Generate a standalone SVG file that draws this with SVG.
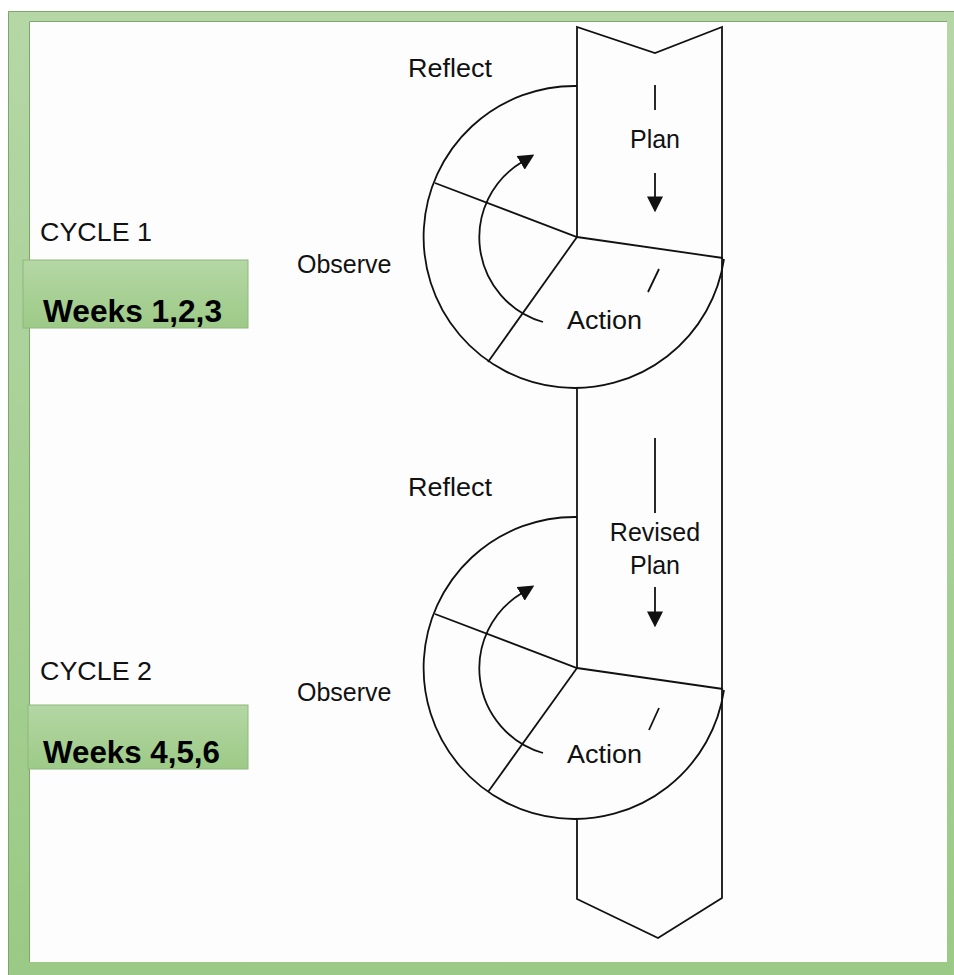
<svg xmlns="http://www.w3.org/2000/svg" width="954" height="975" viewBox="0 0 954 975">
<defs>
<linearGradient id="frameG" x1="0" y1="0" x2="0" y2="1">
<stop offset="0" stop-color="#b5d7a6"/>
<stop offset="1" stop-color="#9aca85"/>
</linearGradient>
<linearGradient id="boxG" x1="0" y1="0" x2="0" y2="1">
<stop offset="0" stop-color="#b4d7a4"/>
<stop offset="1" stop-color="#9dca87"/>
</linearGradient>
<marker id="ah" viewBox="0 0 10 10" refX="1" refY="5" markerWidth="16" markerHeight="16" markerUnits="userSpaceOnUse" orient="auto">
<path d="M0,0 L10,5 L0,10 Z" fill="#111"/>
</marker>
<style>
.ln{fill:none;stroke:#111;stroke-width:1.8;stroke-linejoin:miter}
.t{font-family:"Liberation Sans",Arial,sans-serif;font-size:25px;fill:#111}
.tc{text-anchor:middle}
.wk{font-family:"Liberation Sans",Arial,sans-serif;font-size:31px;font-weight:bold;fill:#000}
.box{fill:url(#boxG);stroke:#8db87c;stroke-width:1}
</style>
</defs>
<g id="frame">
<rect x="8" y="11" width="946" height="964" fill="url(#frameG)"/>
<path d="M8.5,975 L8.5,11.5 L954,11.5" fill="none" stroke="#7fa56f" stroke-width="1"/>
<rect x="29" y="21" width="918" height="941" fill="#fdfdfd"/>
<path d="M29.5,962 L29.5,21.5 L947,21.5" fill="none" stroke="#7fa56f" stroke-width="1"/>
</g>
<g id="connectors">
<path class="ln" d="M577,238 L577,27 L655,53 L722,27 L722,898 L658,938 L577,899 L577,819"/>
<path class="ln" d="M577,387 L577,668"/>
<path class="ln" d="M577,86 A151,151 0 1,0 724,259"/>
<path class="ln" d="M435,183 L577,237 L723,258"/>
<path class="ln" d="M577,237 L488,362"/>
<path class="ln" d="M659,269 L648,292"/>
<path class="ln" d="M543,322 A88,88 0 0,1 522,162" marker-end="url(#ah)"/>
<path class="ln" d="M655,85 L655,110"/>
<path class="ln" d="M655,173 L655,198" marker-end="url(#ah)"/>
<path class="ln" d="M577,517 A151,151 0 1,0 724,690"/>
<path class="ln" d="M435,614 L577,668 L723,689"/>
<path class="ln" d="M577,668 L488,792"/>
<path class="ln" d="M659,708 L649,730"/>
<path class="ln" d="M543,753 A88,88 0 0,1 522,593" marker-end="url(#ah)"/>
<path class="ln" d="M655,438 L655,513"/>
<path class="ln" d="M655,587 L655,613" marker-end="url(#ah)"/>
</g>
<g id="cycle1">
<text class="t" x="408" y="77" textLength="84" lengthAdjust="spacingAndGlyphs">Reflect</text>
<text class="t tc" x="655" y="148">Plan</text>
<text class="t" x="297" y="273">Observe</text>
<text class="t" x="567" y="329" textLength="75" lengthAdjust="spacingAndGlyphs">Action</text>
<text class="t" x="40" y="241" textLength="112" lengthAdjust="spacingAndGlyphs">CYCLE 1</text>
</g>
<g id="weeks1">
<rect class="box" x="23" y="260" width="225" height="68"/>
<text class="wk" x="43" y="322" textLength="179" lengthAdjust="spacingAndGlyphs">Weeks 1,2,3</text>
</g>
<g id="cycle2">
<text class="t" x="408" y="496" textLength="84" lengthAdjust="spacingAndGlyphs">Reflect</text>
<text class="t tc" x="655" y="541">Revised</text>
<text class="t tc" x="655" y="574">Plan</text>
<text class="t" x="297" y="701">Observe</text>
<text class="t" x="567" y="763" textLength="75" lengthAdjust="spacingAndGlyphs">Action</text>
<text class="t" x="40" y="680" textLength="112" lengthAdjust="spacingAndGlyphs">CYCLE 2</text>
</g>
<g id="weeks2">
<rect class="box" x="28" y="705" width="220" height="64"/>
<text class="wk" x="43" y="763" textLength="177" lengthAdjust="spacingAndGlyphs">Weeks 4,5,6</text>
</g>
</svg>
